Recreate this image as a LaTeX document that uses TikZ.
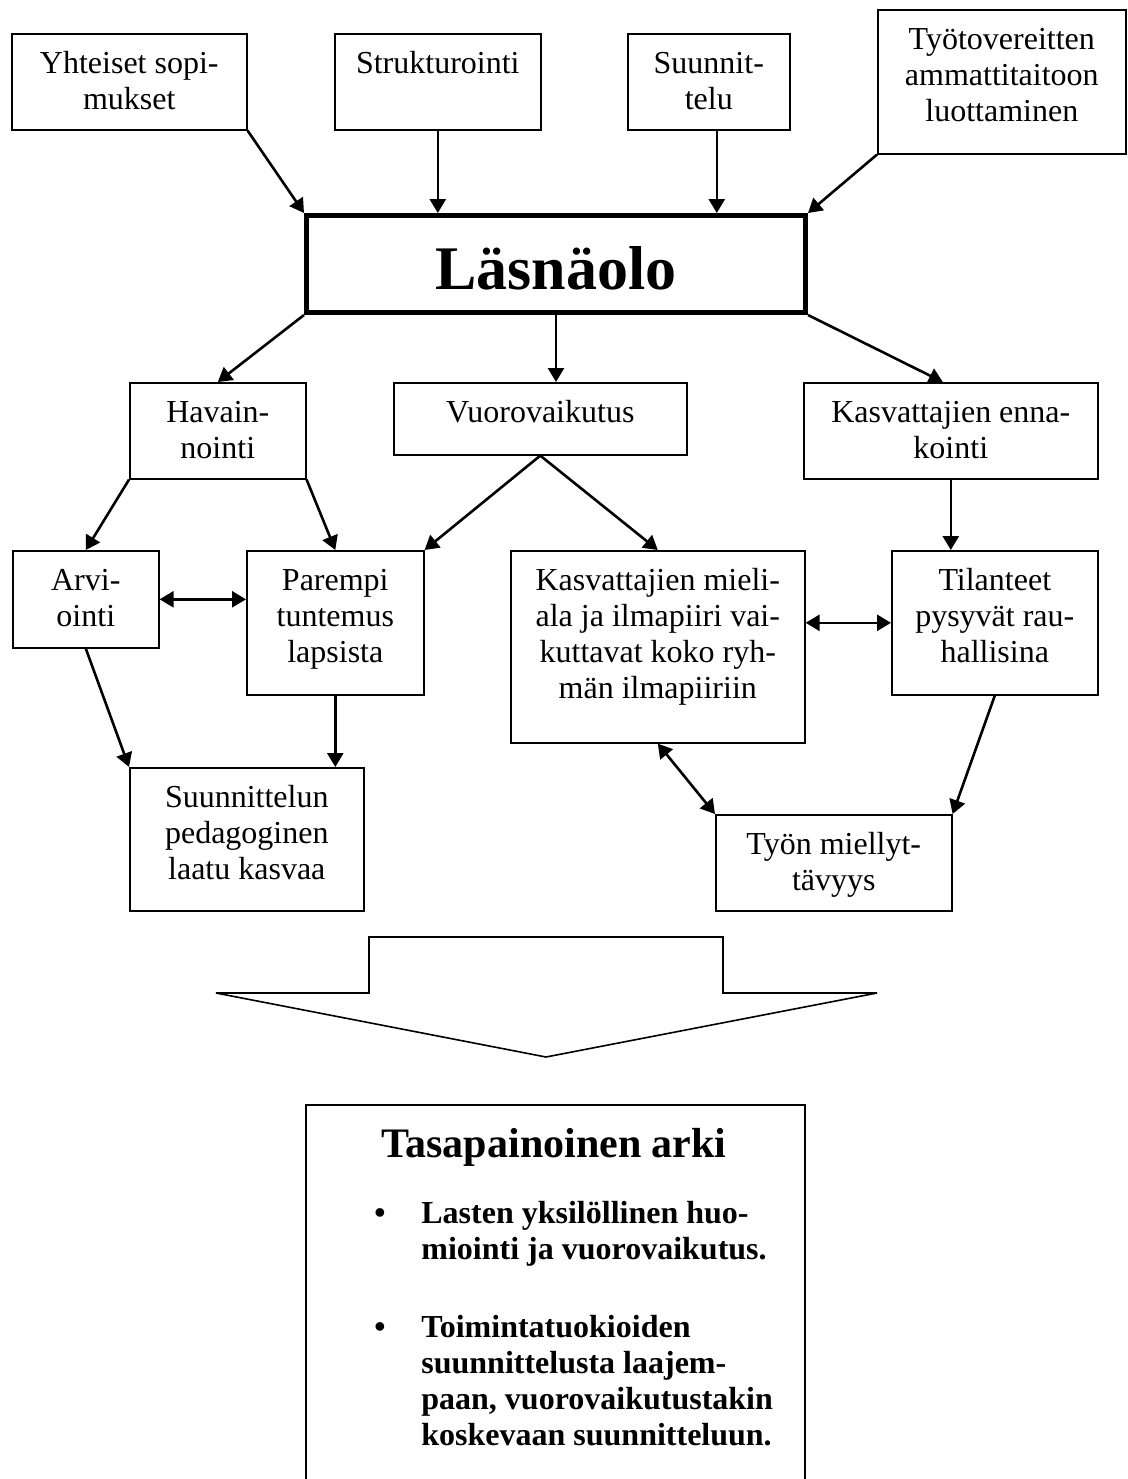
\documentclass[tikz,border=0pt]{standalone}
\usepackage{fontspec}
\setmainfont{Liberation Serif}
\usetikzlibrary{arrows.meta}
\newdimen\px \px=0.5pt
% text box: width, height, text set from the top
\newcommand{\boxtxt}[4][20pt]{\parbox[c][#3][t]{#2}{\centering\rule{0pt}{#1}#4}}

\begin{document}
\begin{tikzpicture}[x=0.5pt,y=-0.5pt,
    laatikko/.style={draw,line width=0.8pt,inner sep=0pt,anchor=north west,font=\fontsize{16}{18}\selectfont},
    nuoli/.style={-{Triangle[length=7pt,width=8pt]},line width=1.3pt},
    kaksi/.style={{Triangle[length=7pt,width=8pt]}-{Triangle[length=7pt,width=8pt]},line width=1.3pt},
    lihava/.style={font=\fontsize{16}{18}\selectfont\bfseries}]
\path[use as bounding box,clip] (0,0) rectangle (1128,1479);

% top row
\node[laatikko] (yht) at (11,33) {\boxtxt{235\px}{96\px}{Yhteiset sopi-\\mukset}};
\node[laatikko] (str) at (334,33) {\boxtxt{206\px}{96\px}{Strukturointi}};
\node[laatikko] (suu) at (627,33) {\boxtxt{162\px}{96\px}{Suunnit-\\telu}};
\node[laatikko] (tyo) at (877,9) {\boxtxt{248\px}{144\px}{Työtovereitten\\ammattitaitoon\\luottaminen}};

% centre
\node[laatikko,line width=2.5pt,font=\fontsize{31}{36}\selectfont\bfseries] (las) at (304,213)
  {\boxtxt[37pt]{499\px}{97\px}{Läsnäolo}};

% middle rows
\node[laatikko] (hav) at (129,382) {\boxtxt{176\px}{96\px}{Havain-\\nointi}};
\node[laatikko] (vuo) at (393,382) {\boxtxt{293\px}{72\px}{Vuorovaikutus}};
\node[laatikko] (enn) at (803,382) {\boxtxt{294\px}{96\px}{Kasvattajien enna-\\kointi}};
\node[laatikko] (arv) at (12,550) {\boxtxt{146\px}{97\px}{Arvi-\\ointi}};
\node[laatikko] (par) at (246,550) {\boxtxt{177\px}{144\px}{Parempi\\tuntemus\\lapsista}};
\node[laatikko] (mie) at (510,550) {\boxtxt{294\px}{192\px}{Kasvattajien mieli-\\ala ja ilmapiiri vai-\\kuttavat koko ryh-\\män ilmapiiriin}};
\node[laatikko] (til) at (891,550) {\boxtxt{206\px}{144\px}{Tilanteet\\pysyvät rau-\\hallisina}};
\node[laatikko] (sla) at (129,767) {\boxtxt{234\px}{143\px}{Suunnittelun\\pedagoginen\\laatu kasvaa}};
\node[laatikko] (tmi) at (715,814) {\boxtxt{236\px}{96\px}{Työn miellyt-\\tävyys}};

% arrows
\draw[nuoli] (yht.south east) -- (las.north west);
\draw[nuoli] (str.south) -- (str.south |- las.north);
\draw[nuoli] ([xshift=4pt]suu.south) -- ([xshift=4pt]suu.south |- las.north);
\draw[nuoli] (tyo.south west) -- (las.north east);
\draw[nuoli] (las.south west) -- (hav.north);
\draw[nuoli] (las.south) -- (las.south |- vuo.north);
\draw[nuoli] (las.south east) -- ([xshift=-4pt]enn.north);
\draw[nuoli] (hav.south west) -- (arv.north);
\draw[nuoli] (hav.south east) -- (par.north);
\draw[nuoli] (vuo.south) -- (par.north east);
\draw[nuoli] (vuo.south) -- (mie.north);
\draw[nuoli] (enn.south) -- (enn.south |- til.north);
\draw[kaksi] (arv.east) -- (arv.east -| par.west);
\draw[kaksi] (mie.east |- til.west) -- (til.west);
\draw[nuoli] (arv.south) -- (sla.north west);
\draw[nuoli] (par.south) -- (par.south |- sla.north);
\draw[kaksi] (mie.south) -- (tmi.north west);
\draw[nuoli] (til.south) -- (tmi.north east);

% big arrow
\draw[line width=0.8pt] (369,937) -- (723,937) -- (723,993) -- (877,993) -- (546,1057)
  -- (216,993) -- (369,993) -- cycle;

% result box
\node[draw,line width=0.8pt,inner sep=0pt,anchor=north west,minimum width=499\px,minimum height=420\px] (ark) at (305,1104) {};
\node[anchor=base,inner sep=0pt,font=\fontsize{21}{24}\selectfont\bfseries] (otsikko) at (554,1157) {Tasapainoinen arki};
\node[anchor=base,lihava] (pallo1) at (380,1223) {•};
\node[anchor=base west,inner sep=0pt,lihava] (kohta1) at (421,1223)
  {\parbox[t]{180pt}{\raggedright Lasten yksilöllinen huo-\\miointi ja vuorovaikutus.}};
\node[anchor=base,lihava] (pallo2) at (380,1337) {•};
\node[anchor=base west,inner sep=0pt,lihava] (kohta2) at (421,1337)
  {\parbox[t]{180pt}{\raggedright Toimintatuokioiden\\suunnittelusta laajem-\\paan, vuorovaikutustakin\\koskevaan suunnitteluun.}};
\end{tikzpicture}
\end{document}
